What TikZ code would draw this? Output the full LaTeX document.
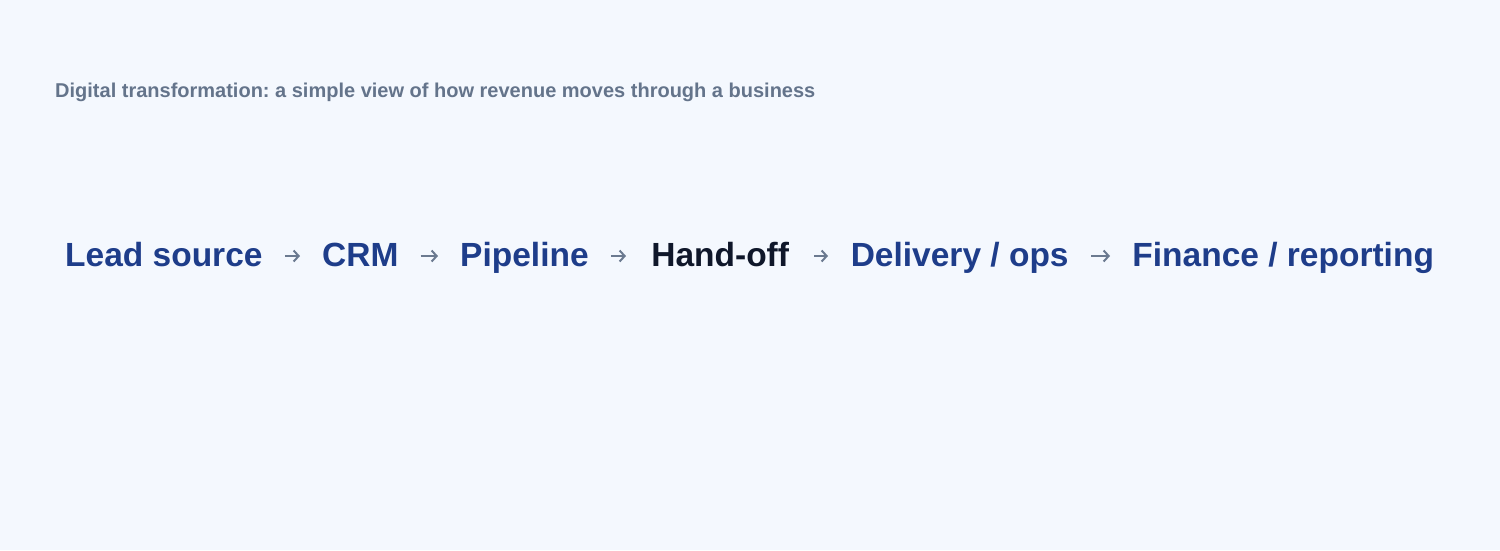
\documentclass[tikz,border=0pt]{standalone}
\usepackage{fontspec}
\setmainfont{Liberation Sans}
\usetikzlibrary{arrows.meta}
\definecolor{bgc}{HTML}{F4F8FE}
\definecolor{stageblue}{HTML}{1E3D8A}
\definecolor{stagedark}{HTML}{0F172A}
\definecolor{titlegray}{HTML}{64748B}
\definecolor{arrowgray}{HTML}{6B7A90}
\tikzset{
  stage/.style={anchor=base west, inner sep=0pt, text height=25pt, text depth=5pt,
    font=\fontsize{33.5}{36}\selectfont\bfseries, text=stageblue, align=center},
  darkstage/.style={stage, text=stagedark},
  flow/.style={draw=arrowgray, line width=2pt, shorten <=22pt, shorten >=22pt,
    -{Straight Barb[length=5pt, width=11pt, line width=2pt]}},
  titletext/.style={anchor=base west, inner sep=0pt, font=\fontsize{20}{24}\selectfont\bfseries, text=titlegray}
}
\begin{document}
\frenchspacing
\begin{tikzpicture}[x=1pt,y=-1pt]
\fill[bgc] (0,0) rectangle (1500,550);
\useasboundingbox (0,0) rectangle (1500,550);
\node[titletext] (title) at (55,97) {Digital transformation: a simple view of how revenue moves through a business};
\node[stage, minimum width=195pt] (lead) at (65,266) {Lead source};
\node[stage, minimum width=75pt] (crm) at (322,266) {CRM};
\node[stage, minimum width=126pt] (pipe) at (460,266) {Pipeline};
\node[darkstage, minimum width=144pt] (hand) at (648,266) {Hand-off};
\node[stage, minimum width=219pt] (deliv) at (850,266) {Delivery / ops};
\node[stage, minimum width=302pt] (fin) at (1132,266) {Finance / reporting};
\draw[flow] (lead.east) -- (crm.west);
\draw[flow] (crm.east) -- (pipe.west);
\draw[flow] (pipe.east) -- (hand.west);
\draw[flow] (hand.east) -- (deliv.west);
\draw[flow] (deliv.east) -- (fin.west);
\end{tikzpicture}
\end{document}
